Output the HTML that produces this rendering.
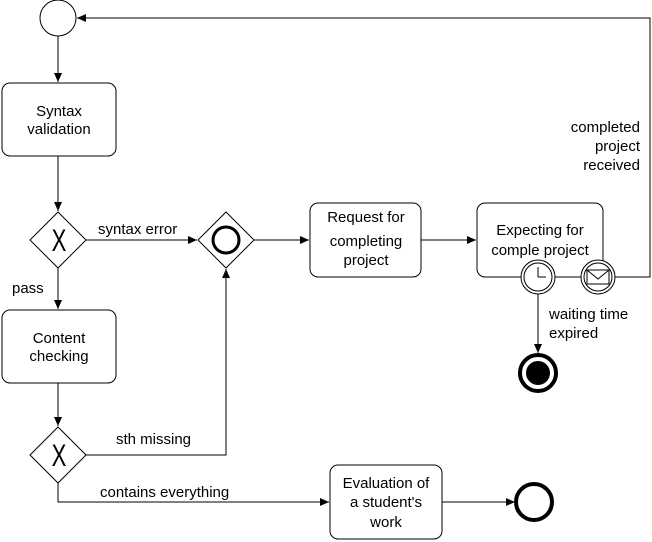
<!DOCTYPE html>
<html><head><style>body{margin:0;background:#fff}svg{display:block}text{font-family:"Liberation Sans",sans-serif;font-size:15px;fill:#000}</style></head>
<body><svg width="652" height="542" viewBox="0 0 652 542">
<defs><marker id="a" markerWidth="10" markerHeight="10" refX="9" refY="5" orient="auto" markerUnits="userSpaceOnUse"><path d="M0,1 L9,5 L0,9z" fill="#000"/></marker></defs>
<g fill="none" stroke="#000" stroke-width="1">
<circle cx="58" cy="18" r="18"/>
<line x1="58" y1="36" x2="58" y2="82" marker-end="url(#a)"/>
<rect x="2" y="83" width="114" height="73" rx="8"/>
<line x1="58" y1="156" x2="58" y2="211" marker-end="url(#a)"/>
<path d="M58,212 L86,240 L58,268 L30,240z"/>
<line x1="86" y1="240" x2="197" y2="240" marker-end="url(#a)"/>
<line x1="58" y1="268" x2="58" y2="309" marker-end="url(#a)"/>
<rect x="2" y="310" width="114" height="73" rx="8"/>
<line x1="58" y1="383" x2="58" y2="426" marker-end="url(#a)"/>
<path d="M58,427 L86,455 L58,483 L30,455z"/>
<polyline points="86,455 226,455 226,269" marker-end="url(#a)"/>
<polyline points="58,483 58,502 329,502" marker-end="url(#a)"/>
<path d="M226,212 L254,240 L226,268 L198,240z"/>
<circle cx="226" cy="240" r="13" stroke-width="3"/>
<line x1="254" y1="240" x2="309" y2="240" marker-end="url(#a)"/>
<rect x="310" y="203" width="111" height="74" rx="8"/>
<line x1="421" y1="240" x2="476" y2="240" marker-end="url(#a)"/>
<rect x="477" y="203" width="126" height="74" rx="8"/>
<polyline points="615,277 650,277 650,18 77,18" marker-end="url(#a)"/>
<line x1="538" y1="294" x2="538" y2="353" marker-end="url(#a)"/>
<circle cx="538" cy="373" r="18" stroke-width="4"/>
<rect x="330" y="465" width="112" height="74" rx="8"/>
<line x1="442" y1="502" x2="515" y2="502" marker-end="url(#a)"/>
<circle cx="534" cy="502" r="18" stroke-width="4"/>
</g>
<circle cx="538" cy="373" r="12" fill="#000"/>
<g fill="#fff" stroke="#000">
<circle cx="538" cy="277" r="17"/><circle cx="538" cy="277" r="14"/>
<line x1="538" y1="277" x2="538" y2="267"/><line x1="538" y1="277" x2="546" y2="277"/>
<circle cx="598" cy="277" r="17"/><circle cx="598" cy="277" r="14"/>
<rect x="587" y="270" width="22" height="14"/><polyline points="587,270 598,279 609,270" fill="none"/>
</g>
<text transform="translate(59,251) scale(0.85,1.2)" text-anchor="middle" style="font-size:26px">X</text>
<text transform="translate(59,466) scale(0.85,1.2)" text-anchor="middle" style="font-size:26px">X</text>
<g text-anchor="middle">
<text x="59" y="116">Syntax</text><text x="59" y="134">validation</text>
<text x="366" y="222">Request for</text><text x="366" y="246">completing</text><text x="366" y="265">project</text>
<text x="540" y="235">Expecting for</text><text x="540" y="255">comple project</text>
<text x="386" y="488">Evaluation of</text><text x="386" y="507">a student's</text><text x="386" y="527">work</text>
<text x="59" y="343">Content</text><text x="59" y="361">checking</text>
</g>
<text x="98" y="234">syntax error</text>
<text x="12" y="293">pass</text>
<text x="116" y="444">sth missing</text>
<text x="100" y="497">contains everything</text>
<text x="549" y="319">waiting time</text>
<text x="549" y="338">expired</text>
<g text-anchor="end"><text x="640" y="132">completed</text><text x="640" y="151">project</text><text x="640" y="170">received</text></g>
</svg></body></html>
